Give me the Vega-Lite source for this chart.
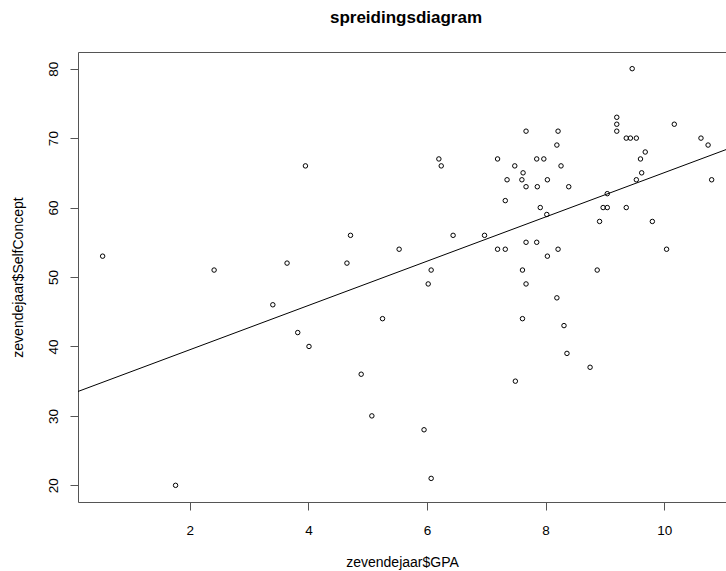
{
  "$schema": "https://vega.github.io/schema/vega-lite/v6.json",
  "autosize": "none",
  "width": 648,
  "height": 450,
  "padding": {"left": 78, "top": 52, "right": 0, "bottom": 69},
  "background": "white",
  "title": {"text": "spreidingsdiagram", "font": "Liberation Sans", "fontSize": 17, "fontWeight": "bold", "color": "black", "anchor": "middle", "offset": 25, "dx": 4},
  "config": {
    "view": {"stroke": null},
    "axis": {"labelFont": "Liberation Sans", "titleFont": "Liberation Sans", "labelFontSize": 13.5, "titleFontSize": 14, "titleFontWeight": "normal", "labelColor": "black", "titleColor": "black", "domainColor": "#555", "tickColor": "#555", "grid": false, "tickSize": 8}
  },
  "data": {"values": [
    {"GPA": 0.53, "SelfConcept": 53},
    {"GPA": 1.76, "SelfConcept": 20},
    {"GPA": 2.41, "SelfConcept": 51},
    {"GPA": 3.40, "SelfConcept": 46},
    {"GPA": 3.64, "SelfConcept": 52},
    {"GPA": 3.82, "SelfConcept": 42},
    {"GPA": 3.95, "SelfConcept": 66},
    {"GPA": 4.01, "SelfConcept": 40},
    {"GPA": 4.65, "SelfConcept": 52},
    {"GPA": 4.71, "SelfConcept": 56},
    {"GPA": 4.89, "SelfConcept": 36},
    {"GPA": 5.07, "SelfConcept": 30},
    {"GPA": 5.25, "SelfConcept": 44},
    {"GPA": 5.53, "SelfConcept": 54},
    {"GPA": 5.95, "SelfConcept": 28},
    {"GPA": 6.02, "SelfConcept": 49},
    {"GPA": 6.07, "SelfConcept": 51},
    {"GPA": 6.07, "SelfConcept": 21},
    {"GPA": 6.20, "SelfConcept": 67},
    {"GPA": 6.24, "SelfConcept": 66},
    {"GPA": 6.44, "SelfConcept": 56},
    {"GPA": 6.97, "SelfConcept": 56},
    {"GPA": 7.19, "SelfConcept": 67},
    {"GPA": 7.19, "SelfConcept": 54},
    {"GPA": 7.32, "SelfConcept": 61},
    {"GPA": 7.32, "SelfConcept": 54},
    {"GPA": 7.35, "SelfConcept": 64},
    {"GPA": 7.48, "SelfConcept": 66},
    {"GPA": 7.49, "SelfConcept": 35},
    {"GPA": 7.60, "SelfConcept": 64},
    {"GPA": 7.61, "SelfConcept": 51},
    {"GPA": 7.61, "SelfConcept": 44},
    {"GPA": 7.62, "SelfConcept": 65},
    {"GPA": 7.67, "SelfConcept": 63},
    {"GPA": 7.67, "SelfConcept": 71},
    {"GPA": 7.67, "SelfConcept": 55},
    {"GPA": 7.67, "SelfConcept": 49},
    {"GPA": 7.85, "SelfConcept": 67},
    {"GPA": 7.85, "SelfConcept": 55},
    {"GPA": 7.86, "SelfConcept": 63},
    {"GPA": 7.91, "SelfConcept": 60},
    {"GPA": 7.97, "SelfConcept": 67},
    {"GPA": 8.02, "SelfConcept": 59},
    {"GPA": 8.03, "SelfConcept": 64},
    {"GPA": 8.03, "SelfConcept": 53},
    {"GPA": 8.19, "SelfConcept": 69},
    {"GPA": 8.19, "SelfConcept": 47},
    {"GPA": 8.21, "SelfConcept": 71},
    {"GPA": 8.21, "SelfConcept": 54},
    {"GPA": 8.26, "SelfConcept": 66},
    {"GPA": 8.31, "SelfConcept": 43},
    {"GPA": 8.36, "SelfConcept": 39},
    {"GPA": 8.39, "SelfConcept": 63},
    {"GPA": 8.75, "SelfConcept": 37},
    {"GPA": 8.87, "SelfConcept": 51},
    {"GPA": 8.91, "SelfConcept": 58},
    {"GPA": 8.97, "SelfConcept": 60},
    {"GPA": 9.04, "SelfConcept": 60},
    {"GPA": 9.04, "SelfConcept": 62},
    {"GPA": 9.20, "SelfConcept": 73},
    {"GPA": 9.20, "SelfConcept": 72},
    {"GPA": 9.20, "SelfConcept": 71},
    {"GPA": 9.36, "SelfConcept": 70},
    {"GPA": 9.36, "SelfConcept": 60},
    {"GPA": 9.43, "SelfConcept": 70},
    {"GPA": 9.46, "SelfConcept": 80},
    {"GPA": 9.53, "SelfConcept": 70},
    {"GPA": 9.53, "SelfConcept": 64},
    {"GPA": 9.60, "SelfConcept": 67},
    {"GPA": 9.62, "SelfConcept": 65},
    {"GPA": 9.68, "SelfConcept": 68},
    {"GPA": 9.80, "SelfConcept": 58},
    {"GPA": 10.04, "SelfConcept": 54},
    {"GPA": 10.17, "SelfConcept": 72},
    {"GPA": 10.62, "SelfConcept": 70},
    {"GPA": 10.74, "SelfConcept": 69},
    {"GPA": 10.80, "SelfConcept": 64}
  ]},
  "resolve": {"axis": {"x": "independent"}},
  "layer": [
    {
      "mark": {"type": "point", "shape": "circle", "filled": false, "stroke": "black", "strokeWidth": 1, "size": 20, "opacity": 1},
      "encoding": {
        "x": {"field": "GPA", "type": "quantitative", "scale": {"domain": [0.1147, 11.042], "nice": false, "zero": false},
          "axis": {"title": "zevendejaar$GPA", "values": [2, 4, 6, 8, 10], "labelPadding": 13, "titlePadding": 19}},
        "y": {"field": "SelfConcept", "type": "quantitative", "scale": {"domain": [17.6, 82.4], "nice": false, "zero": false},
          "axis": {"title": "zevendejaar$SelfConcept", "values": [20, 30, 40, 50, 60, 70, 80], "labelAngle": -90, "labelAlign": "center", "labelBaseline": "bottom", "labelPadding": 10, "titlePadding": 21}}
      }
    },
    {
      "transform": [{"regression": "SelfConcept", "on": "GPA", "extent": [0.1147, 11.042]}],
      "mark": {"type": "line", "color": "black", "strokeWidth": 1, "clip": true},
      "encoding": {
        "x": {"field": "GPA", "type": "quantitative", "axis": {"orient": "top", "labels": false, "ticks": false, "title": null, "domain": true}},
        "y": {"field": "SelfConcept", "type": "quantitative"}
      }
    }
  ]
}
